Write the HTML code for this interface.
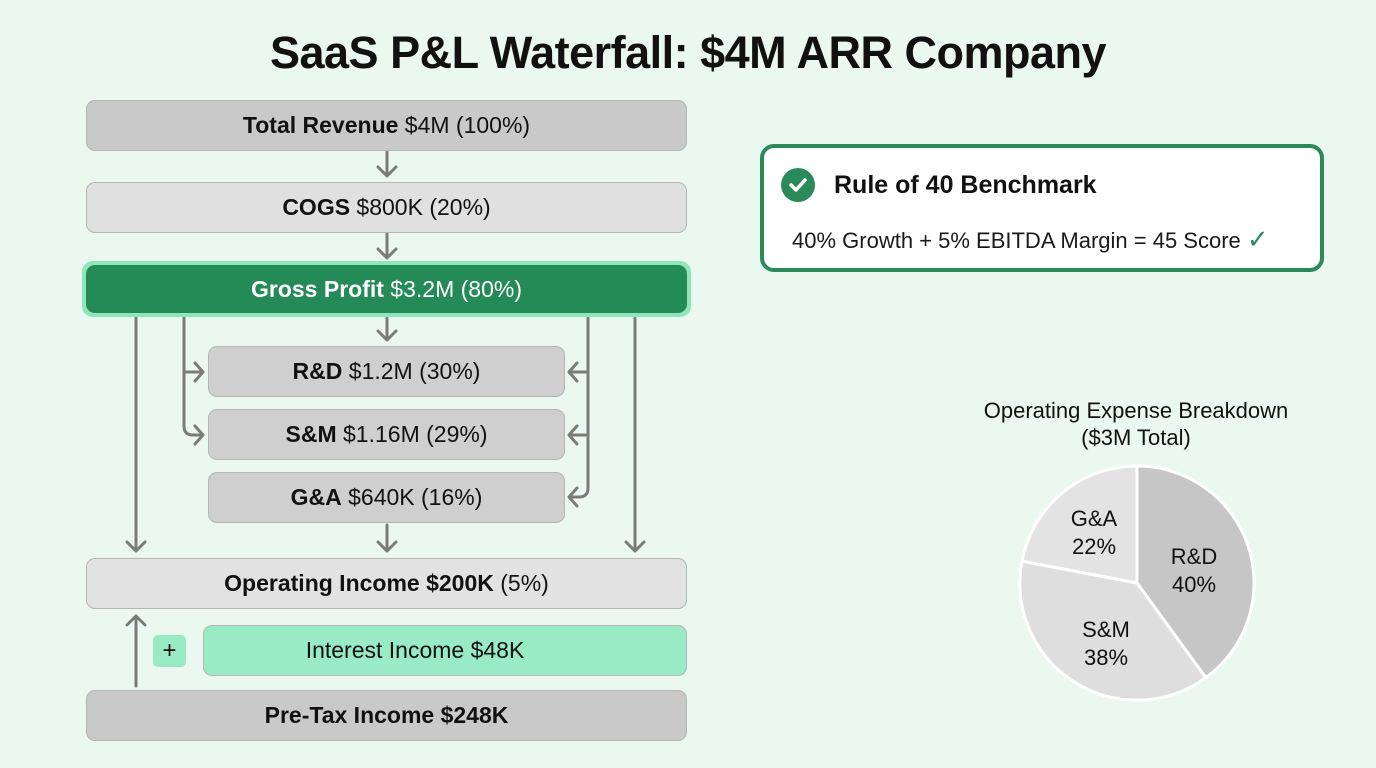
<!DOCTYPE html>
<html><head><meta charset="utf-8"><style>
html,body{margin:0;padding:0}
body{width:1376px;height:768px;background:#eaf8f0;position:relative;overflow:hidden;font-family:"Liberation Sans",sans-serif;color:#111}
.t{position:absolute;left:0;width:1376px;top:27px;text-align:center;font-size:45px;font-weight:bold;letter-spacing:-0.5px}
.b{position:absolute;box-sizing:border-box;border:1.5px solid #b5b5b5;border-radius:9px;display:flex;align-items:center;justify-content:center;font-size:23px;white-space:pre}
.b b{font-weight:bold}
</style></head><body>
<div class="t">SaaS P&amp;L Waterfall: $4M ARR Company</div>
<svg style="position:absolute;left:0;top:0" width="1376" height="768">
<g stroke="#7b7b7b" stroke-width="3" fill="none" stroke-linecap="round" stroke-linejoin="round">
<path d="M387 152V176M378 167L387 176L396 167"/>
<path d="M387 234V258M378 249L387 258L396 249"/>
<path d="M387 318V340M378 331L387 340L396 331"/>
<path d="M387 525V551M378 542L387 551L396 542"/>
<path d="M136 318V551M127 542L136 551L145 542"/>
<path d="M635 318V551M626 542L635 551L644 542"/>
<path d="M184 318V426Q184 435 193 435H203M195 363L203 372L195 381M195 426L203 435L195 444M184 372H203"/>
<path d="M588 318V488Q588 497 579 497H569M577 363L569 372L577 381M577 426L569 435L577 444M577 488L569 497L577 506M588 372H569M588 435H569"/>
<path d="M136 686V616M127 625L136 616L145 625"/>
</g>
<g stroke="#fff" stroke-width="3">
<path d="M1137 583L1137 466A117 117 0 0 1 1205.8 677.7Z" fill="#c6c6c6"/>
<path d="M1137 583L1205.8 677.7A117 117 0 0 1 1022 561.1Z" fill="#dedede"/>
<path d="M1137 583L1022 561.1A117 117 0 0 1 1137 466Z" fill="#e3e3e3"/>
</g>
<g font-family="Liberation Sans,sans-serif" font-size="22" fill="#111" text-anchor="middle">
<text x="1136" y="418">Operating Expense Breakdown</text>
<text x="1136" y="445">($3M Total)</text>
<text x="1094" y="526">G&amp;A</text><text x="1094" y="554">22%</text>
<text x="1194" y="564">R&amp;D</text><text x="1194" y="592">40%</text>
<text x="1106" y="637">S&amp;M</text><text x="1106" y="665">38%</text>
</g>
</svg>
<div class="b" style="left:86px;top:100px;width:601px;height:51px;background:#c9c9c9"><b>Total Revenue</b> $4M (100%)</div>
<div class="b" style="left:86px;top:182px;width:601px;height:51px;background:#e0e0e0"><b>COGS</b> $800K (20%)</div>
<div style="position:absolute;left:82px;top:261px;width:609px;height:56px;background:#8fe6b9;border-radius:11px"></div>
<div class="b" style="left:86px;top:265px;width:601px;height:48px;background:#248a57;border:none;color:#fff"><b>Gross Profit</b> $3.2M (80%)</div>
<div class="b" style="left:208px;top:346px;width:357px;height:51px;background:#cfcfcf"><b>R&amp;D</b> $1.2M (30%)</div>
<div class="b" style="left:208px;top:409px;width:357px;height:51px;background:#cfcfcf"><b>S&amp;M</b> $1.16M (29%)</div>
<div class="b" style="left:208px;top:472px;width:357px;height:51px;background:#cfcfcf"><b>G&amp;A</b> $640K (16%)</div>
<div class="b" style="left:86px;top:558px;width:601px;height:51px;background:#e2e2e2"><b>Operating Income $200K</b> (5%)</div>
<div style="position:absolute;left:153px;top:635px;width:33px;height:32px;background:#98eac3;border-radius:5px;text-align:center;line-height:32px;font-size:24px">+</div>
<div class="b" style="left:203px;top:625px;width:484px;height:51px;background:#98ebc4;padding-right:60px">Interest Income $48K</div>
<div class="b" style="left:86px;top:690px;width:601px;height:51px;background:#c9c9c9"><b>Pre-Tax Income $248K</b></div>
<div style="position:absolute;left:760px;top:144px;width:564px;height:128px;box-sizing:border-box;border:4px solid #2a8a5a;border-radius:14px;background:#fff">
<div style="position:absolute;left:17px;top:20px;width:34px;height:34px;border-radius:50%;background:#2a8a5a"></div>
<svg style="position:absolute;left:17px;top:20px" width="34" height="34"><path d="M10 17L15 22L24 12" stroke="#fff" stroke-width="3.5" fill="none" stroke-linecap="round" stroke-linejoin="round"/></svg>
<div style="position:absolute;left:70px;top:23px;font-size:25px;font-weight:bold">Rule of 40 Benchmark</div>
<div style="position:absolute;left:28px;top:76px;font-size:22px;color:#1a1a1a">40% Growth + 5% EBITDA Margin = 45 Score <span style="color:#2a8a5a;font-size:26px">✓</span></div>
</div>
</body></html>
